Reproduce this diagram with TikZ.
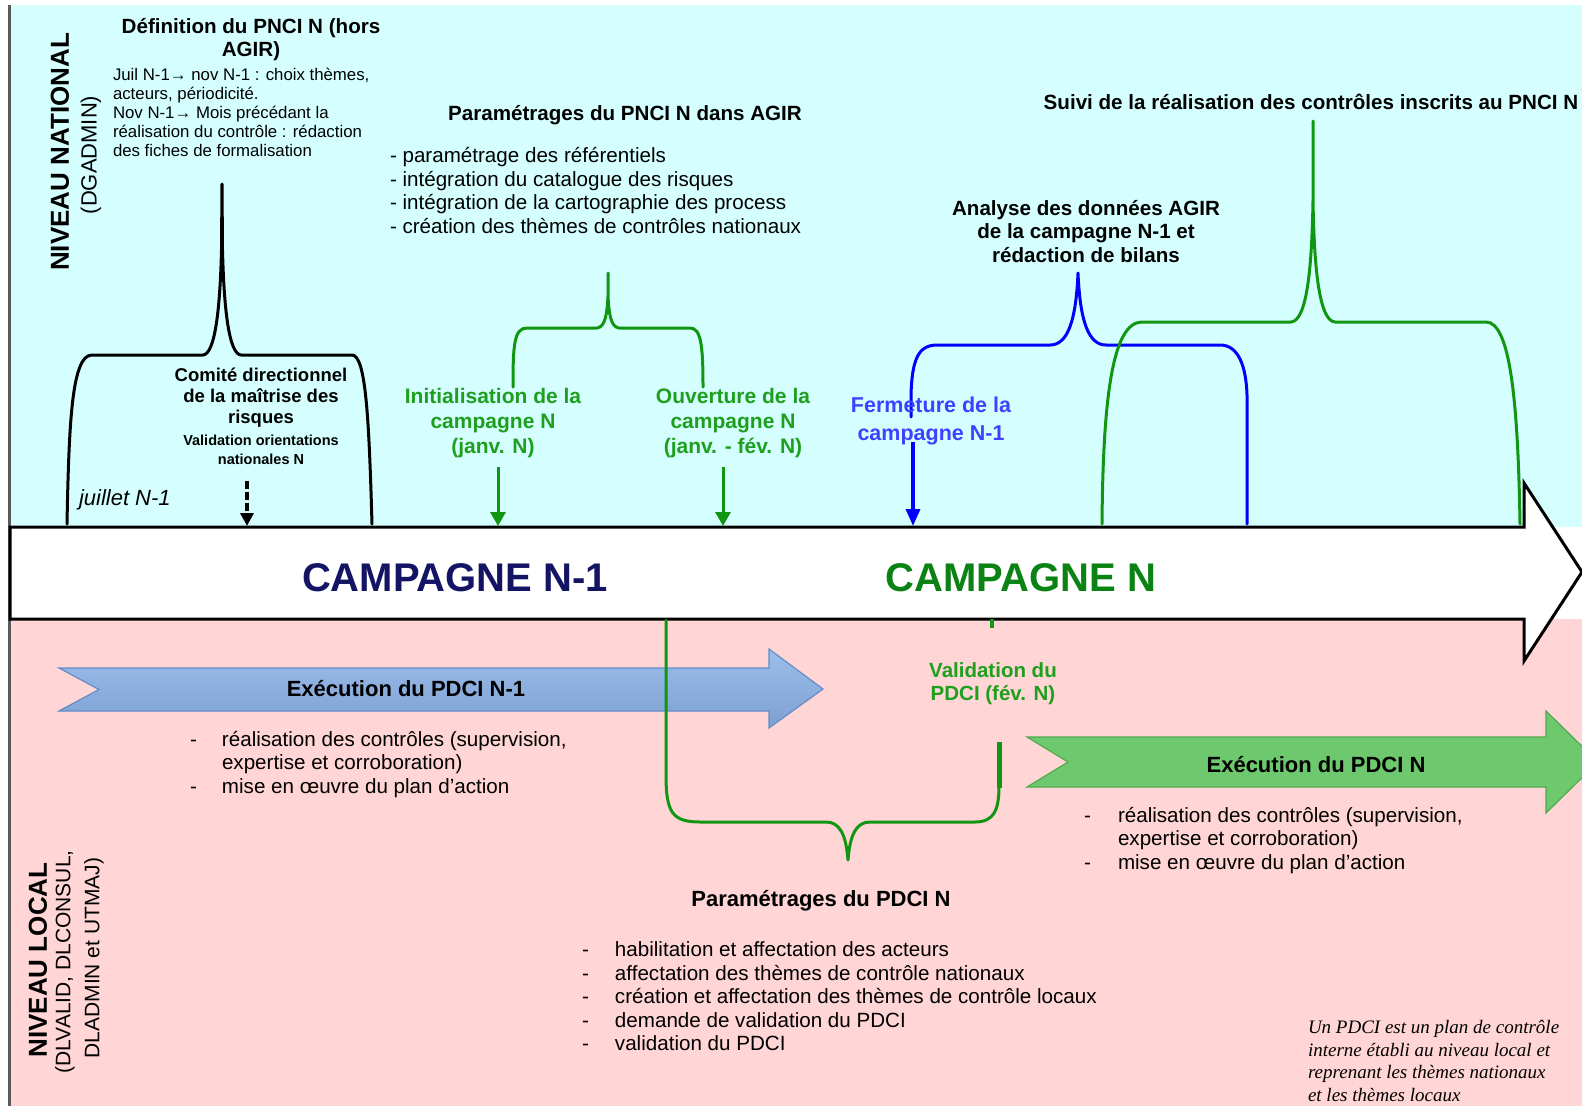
\documentclass[tikz,border=0pt]{standalone}
\usepackage{fontspec}
\setmainfont{Liberation Sans}
\newfontfamily\noteserif{Liberation Serif}
\usetikzlibrary{arrows.meta}
\definecolor{cyanbg}{RGB}{213,255,255}
\definecolor{pinkbg}{RGB}{255,213,213}
\definecolor{grn}{RGB}{16,150,16}
\definecolor{grntxt}{RGB}{30,160,30}
\definecolor{blu}{RGB}{0,0,255}
\definecolor{blutxt}{RGB}{64,64,255}
\definecolor{navy}{RGB}{20,20,100}
\definecolor{campgreen}{RGB}{10,130,20}
\definecolor{arrbluetop}{RGB}{155,190,235}
\definecolor{arrbluebot}{RGB}{125,160,210}
\definecolor{arrblueline}{RGB}{100,140,200}
\definecolor{arrgreen}{RGB}{110,200,110}
\definecolor{arrgreenline}{RGB}{80,170,80}
\newcommand\fsz[2]{\fontsize{#1}{#2}\selectfont}
\begin{document}
\begin{tikzpicture}[x=1pt,y=-1pt,
  txt/.style={inner sep=0pt, outer sep=0pt},
  head/.style={txt, font=\fsz{20.6}{23.5}\bfseries, align=center},
  body/.style={txt, font=\fsz{20.6}{23.4}, align=left},
  glabel/.style={txt, font=\fsz{21}{25}\bfseries, align=center, text=grntxt},
  brace/.style={line width=3pt, line join=round, line cap=round},
  gtip/.style={-{Triangle[length=14pt,width=15pt]}, line width=3pt, grn},
  btip/.style={-{Triangle[length=17pt,width=14pt]}, line width=3.5pt, blu},
  execarrow/.style={line width=1.2pt, line join=miter}
]
\useasboundingbox (0,0) rectangle (1582,1106);
\fill[white] (0,0) rectangle (1582,1106);
\fill[cyanbg] (11,5) rectangle (1582,527);
\fill[pinkbg] (11,619) rectangle (1582,1106);
\draw[line width=3pt, black!65] (9.5,5) -- (9.5,1106);

% main timeline arrow
\draw[line width=3pt, fill=white, line join=miter] (10,527) -- (1524,527) -- (1524,483) -- (1582,572) -- (1524,661) -- (1524,619) -- (10,619) -- cycle;
\node[txt, font=\fsz{40}{44}\bfseries, text=navy] (camp1) at (455,578) {CAMPAGNE N-1};
\node[txt, font=\fsz{40}{44}\bfseries, text=campgreen] (camp2) at (1021,578) {CAMPAGNE N};

% side titles
\node[txt, rotate=90, font=\fsz{26}{30}\bfseries] (natl) at (60,152) {NIVEAU NATIONAL};
\node[txt, rotate=90, font=\fsz{22}{26}] (dgadmin) at (91,155) {(DGADMIN)};
\node[txt, rotate=90, font=\fsz{26}{30}\bfseries] (local1) at (38,960) {NIVEAU LOCAL};
\node[txt, rotate=90, font=\fsz{21}{25}] (local2) at (65,962) {(DLVALID, DLCONSUL,};
\node[txt, rotate=90, font=\fsz{21}{25}] (local3) at (94,958) {DLADMIN et UTMAJ)};

% top-left block
\node[head] (def) at (251,39.5) {Définition du PNCI N (hors\\AGIR)};
\node[txt, anchor=west, align=left, font=\fsz{16.8}{19}] (juil) at (113,112)
  {Juil N-1→ nov N-1 : choix thèmes,\\acteurs, périodicité.\\Nov N-1→ Mois précédant la\\réalisation du contrôle : rédaction\\des fiches de formalisation};
\draw[brace] (67,524) .. controls (69,420) and (72,355) .. (92,355) -- (203,355)
  .. controls (215,354) and (220,310) .. (221.5,250) -- (222,184) -- (222.5,250)
  .. controls (224,310) and (229,354) .. (241,355) -- (352,355)
  .. controls (366,355) and (369,420) .. (372,524);
\node[txt, font=\fsz{18.5}{21}\bfseries, align=center] (comite) at (261,398) {Comité directionnel\\de la maîtrise des\\risques};
\node[txt, font=\fsz{14.5}{19}\bfseries, align=center] (validorient) at (261,449.5) {Validation orientations\\nationales N};
\node[txt, anchor=west, font=\fsz{22}{26}\itshape] (juillet) at (79,500) {juillet N-1};
\coordinate (dashS) at (247,481);
\coordinate (dashE) at (247,526);
\draw[line width=3.5pt, dash pattern=on 8pt off 3pt, -{Triangle[length=13pt,width=13pt]}] (dashS) -- (dashE);

% PNCI parametrage
\node[head] (pnci) at (625,115) {Paramétrages du PNCI N dans AGIR};
\node[body, anchor=west] (list1) at (390,190.5) {- paramétrage des référentiels\\- intégration du catalogue des risques\\- intégration de la cartographie des process\\- création des thèmes de contrôles nationaux};
\draw[brace, grn] (513,387) .. controls (513,345) and (514,328) .. (527,328) -- (597,328)
  .. controls (605,327) and (607,315) .. (608,296) -- (608,273) -- (608,296)
  .. controls (609,315) and (611,327) .. (619,328) -- (690,328)
  .. controls (701,328) and (703,345) .. (703,387);
\node[glabel] (init) at (493,423) {Initialisation de la\\campagne N\\(janv. N)};
\node[glabel] (ouv) at (733,423) {Ouverture de la\\campagne N\\(janv. - fév. N)};
\coordinate (initS) at (498,467);
\coordinate (initE) at (498,526);
\coordinate (ouvS) at (723,467);
\coordinate (ouvE) at (723,526);
\draw[gtip] (initS) -- (initE);
\draw[gtip] (ouvS) -- (ouvE);

% Analyse / Fermeture
\node[head] (analyse) at (1086,231.5) {Analyse des données AGIR\\de la campagne N-1 et\\rédaction de bilans};
\draw[brace, blu] (911,417) -- (911,395) .. controls (912,360) and (918,345) .. (937,345) -- (1050,345)
  .. controls (1068,345) and (1076,320) .. (1078,273)
  .. controls (1080,320) and (1088,345) .. (1106,345) -- (1220,345)
  .. controls (1238,345) and (1246,365) .. (1247,395) -- (1247,524);
\node[txt, font=\fsz{21.5}{28}\bfseries, text=blutxt, align=center] (ferm) at (931,421) {Fermeture de la\\campagne N-1};
\coordinate (fermS) at (913,442);
\coordinate (fermE) at (913,526);
\draw[btip] (fermS) -- (fermE);

% Suivi
\node[head] (suivi) at (1311,102) {Suivi de la réalisation des contrôles inscrits au PNCI N};
\draw[brace, grn] (1102,524) .. controls (1103,400) and (1112,322) .. (1142,322) -- (1291,322)
  .. controls (1308,321) and (1312,260) .. (1313,200) -- (1313,121) -- (1313,200)
  .. controls (1314,260) and (1318,321) .. (1335,322) -- (1486,322)
  .. controls (1510,322) and (1518,400) .. (1520,524);

% lower level: execution N-1
\draw[execarrow, draw=arrblueline, top color=arrbluetop, bottom color=arrbluebot]
  (59,668) -- (769,668) -- (769,649) -- (823,689) -- (769,728) -- (769,711) -- (59,711) -- (99,689.5) -- cycle;
\node[txt, font=\fsz{22}{26}\bfseries] (exec1) at (406,689) {Exécution du PDCI N-1};
\node[body, anchor=west] (list2) at (190,765) {\begin{tabular}{@{}p{32pt}@{}l@{}}-&réalisation des contrôles (supervision,\\&expertise et corroboration)\\-&mise en œuvre du plan d’action\end{tabular}};

% lower green brace (paramétrages PDCI)
\draw[brace, grn] (666,620) -- (666,775) .. controls (666,812) and (672,822) .. (700,822) -- (826,822)
  .. controls (840,822) and (846,835) .. (848,860)
  .. controls (850,835) and (856,822) .. (870,822) -- (975,822)
  .. controls (994,822) and (999,810) .. (999,786);
\draw[line width=5pt, grn] (999,788) -- (999,742);
\draw[line width=4pt, grn] (992,619) -- (992,628);
\node[txt, font=\fsz{20.5}{23}\bfseries, text=grntxt, align=center] (validpdci) at (993,683.5) {Validation du\\PDCI (fév. N)};

% execution N
\draw[execarrow, draw=arrgreenline, fill=arrgreen]
  (1027,737) -- (1546,737) -- (1546,711) -- (1598,762) -- (1546,813) -- (1546,787) -- (1027,787) -- (1068,762) -- cycle;
\node[txt, font=\fsz{22}{26}\bfseries] (exec2) at (1316,765) {Exécution du PDCI N};
\node[body, anchor=west] (list3) at (1084,841) {\begin{tabular}{@{}p{34pt}@{}l@{}}-&réalisation des contrôles (supervision,\\&expertise et corroboration)\\-&mise en œuvre du plan d’action\end{tabular}};

% parametrages PDCI
\node[txt, font=\fsz{22}{26}\bfseries] (param) at (821,901) {Paramétrages du PDCI N};
\node[body, anchor=west] (list4) at (582,999) {\begin{tabular}{@{}p{33pt}@{}l@{}}-&habilitation et affectation des acteurs\\-&affectation des thèmes de contrôle nationaux\\-&création et affectation des thèmes de contrôle locaux\\-&demande de validation du PDCI\\-&validation du PDCI\end{tabular}};

% note
\node[txt, anchor=west, align=left, font=\noteserif\fsz{19}{22.7}\itshape] (note) at (1308,1061)
  {Un PDCI est un plan de contrôle\\interne établi au niveau local et\\reprenant les thèmes nationaux\\et les thèmes locaux};
\end{tikzpicture}
\end{document}
